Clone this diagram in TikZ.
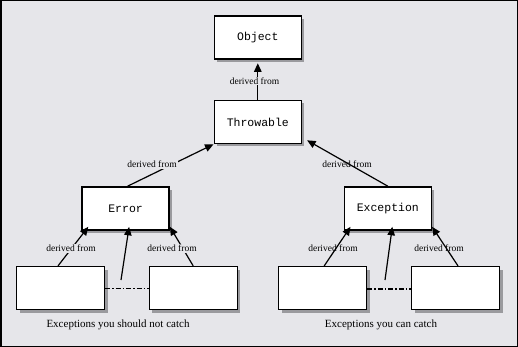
\documentclass[tikz,border=0pt]{standalone}
\usepackage{fontspec}
\setmainfont{Liberation Serif}
\setmonofont{Liberation Mono}
\usetikzlibrary{arrows.meta,shadows}
\definecolor{paper}{HTML}{E6E6EA}
\definecolor{shade}{HTML}{9A9A9E}
\begin{document}
\begin{tikzpicture}[x=1pt, y=-1pt,
        box/.style={draw, line width=1.6pt, fill=white, inner sep=0pt,
            minimum width=87pt, minimum height=43pt,
            font=\fontsize{11.5}{12}\ttfamily,
            drop shadow={shadow xshift=3pt, shadow yshift=-3pt, fill=shade, opacity=1}},
        leaf/.style={box, line width=1.2pt, minimum width=88pt},
        derived/.style={fill=paper, inner sep=1pt, font=\fontsize{9.5}{10}\selectfont},
        caption/.style={font=\fontsize{11}{12}\selectfont},
        inherit/.style={line width=1.2pt, -{Triangle[length=8.5pt,width=7.5pt]}},
        sibling/.style={line width=1.2pt, dash pattern=on 5pt off 2pt on 1.5pt off 2pt}
    ]
    \useasboundingbox (0,0) rectangle (518,347);
    \draw[line width=1.5pt, fill=paper] (0.75,0.75) rectangle (517.25,346.25);

    % classes
    \node[box] (obj) at (257.8,37.5) {Object};
    \node[box] (thr) at (257.8,122) {Throwable};
    \node[box] (err) at (125.6,208.5) {Error};
    \node[box] (exc) at (387.8,208.5) {Exception};

    % subclasses
    \node[leaf] (e1) at (60.5,288) {};
    \node[leaf] (e2) at (193.2,288) {};
    \node[leaf] (x1) at (322.7,288) {};
    \node[leaf] (x2) at (455.5,288) {};
    \coordinate (emid) at (121,280);
    \coordinate (xmid) at (385,280);

    % inheritance
    \draw[inherit, shorten >=3.5pt] (thr) -- (obj);
    \node[derived] (dobj) at (254.5,81) {derived from};
    \draw[inherit] ([xshift=2pt]err.north) -- (thr.south west);
    \node[derived] (derr) at (152,164.5) {derived from};
    \node[derived, fill=none] (dexc) at (347,164.5) {derived from};
    \draw[inherit] (exc.north) -- ([xshift=5pt,yshift=4pt]thr.south east);

    \draw[inherit] ([xshift=-2.5pt]e1.north) -- ([xshift=7pt,yshift=4pt]err.south west);
    \node[derived] (de1) at (71,248.5) {derived from};
    \draw[inherit] (e2.north) -- ([yshift=4pt]err.south east);
    \node[derived] (de2) at (172,248.5) {derived from};
    \draw[inherit] (emid) -- ([xshift=3.5pt,yshift=4pt]err.south);
    \draw[sibling, line width=1pt] (e1.east) -- (e2.west);

    \node[derived] (dx1) at (333,248.5) {derived from};
    \draw[inherit] ([xshift=1.5pt]x1.north) -- ([xshift=7pt,yshift=4pt]exc.south west);
    \draw[inherit] (xmid) -- ([xshift=4.5pt,yshift=4pt]exc.south);
    \node[derived, fill=none] (dx2) at (439,248.5) {derived from};
    \draw[inherit] ([xshift=2.5pt]x2.north) -- ([yshift=4pt]exc.south east);
    \draw[sibling, line width=1.8pt] ([yshift=-1pt]x1.east) -- ([yshift=-1pt]x2.west);

    % groups
    \node[caption] (cerr) at (118,325) {Exceptions you should not catch};
    \node[caption] (cexc) at (381,325) {Exceptions you can catch};
\end{tikzpicture}
\end{document}
